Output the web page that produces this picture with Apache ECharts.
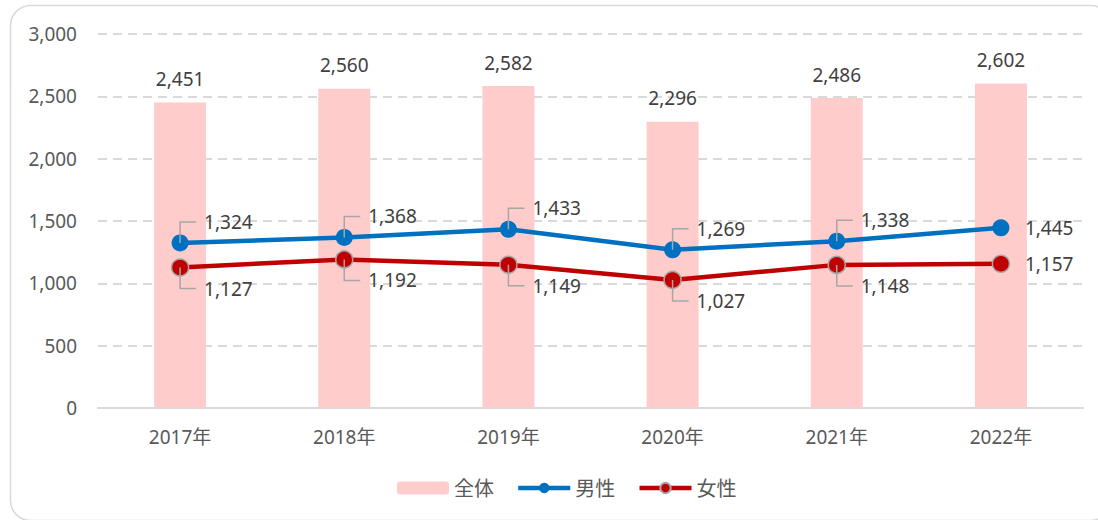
<!DOCTYPE html>
<html>
<head>
<meta charset="utf-8">
<script src="https://cdn.jsdelivr.net/npm/echarts@6/dist/echarts.min.js"></script>
<style>
html,body{margin:0;padding:0;background:#fff;}
#c{width:1098px;height:520px;}
</style>
</head>
<body>
<div id="c"></div>
<script>
const years = ['2017年', '2018年', '2019年', '2020年', '2021年', '2022年'];
const total = [2451, 2560, 2582, 2296, 2486, 2602];
const male = [1324, 1368, 1433, 1269, 1338, 1445];
const female = [1127, 1192, 1149, 1027, 1148, 1157];
const yTicks = [0, 500, 1000, 1500, 2000, 2500, 3000];

const FONT = '"Noto Sans", "Noto Sans CJK JP", sans-serif';
const fmt = v => Number(v).toLocaleString('en-US');

function calloutSeries(name, values, dir) {
  return {
    type: 'custom',
    name: name + '_label',
    z: 5,
    silent: true,
    data: values.map((v, i) => [i, v]),
    encode: { x: 0, y: 1 },
    renderItem: function (params, api) {
      const i = params.dataIndex;
      const v = api.value(1);
      const pt = api.coord([api.value(0), v]);
      const last = i === values.length - 1;
      const children = [];
      if (last) {
        children.push({
          type: 'text',
          style: { x: pt[0] + 24, y: pt[1], text: fmt(v), fill: '#404040', font: '19px ' + FONT, textAlign: 'left', textVerticalAlign: 'middle' }
        });
      } else {
        const ly = pt[1] + dir * 21;
        children.push({
          type: 'polyline',
          shape: { points: [[pt[0], pt[1]], [pt[0], ly], [pt[0] + 16, ly]] },
          style: { stroke: '#a6a6a6', lineWidth: 1.5, fill: null }
        });
        children.push({
          type: 'text',
          style: { x: pt[0] + 24, y: ly, text: fmt(v), fill: '#404040', font: '19px ' + FONT, textAlign: 'left', textVerticalAlign: 'middle' }
        });
      }
      return { type: 'group', children: children };
    }
  };
}

const chart = echarts.init(document.getElementById('c'), null, { renderer: 'svg' });
chart.setOption({
  animation: false,
  backgroundColor: '#fff',
  textStyle: { fontFamily: FONT },
  graphic: [{
    type: 'rect',
    shape: { x: 10.5, y: 5.5, width: 1100, height: 515, r: 20 },
    style: { fill: 'none', stroke: '#d9d9d9', lineWidth: 1.5 },
    z: -10, silent: true
  }],
  grid: { left: 98, right: 15, top: 34, bottom: 112 },
  legend: {
    data: ['全体', '男性', '女性'],
    bottom: 17,
    left: 392,
    itemWidth: 52,
    itemHeight: 13,
    itemGap: 22,
    lineStyle: { width: 4.5 },
    textStyle: { fontSize: 20, color: '#595959', fontFamily: FONT }
  },
  xAxis: {
    type: 'category',
    data: years,
    axisLine: { lineStyle: { color: '#d9d9d9', width: 2 } },
    axisTick: { show: false },
    axisLabel: { color: '#595959', fontSize: 19, margin: 19 }
  },
  yAxis: {
    type: 'value',
    min: yTicks[0],
    max: yTicks[yTicks.length - 1],
    interval: 500,
    axisLine: { show: false },
    axisTick: { show: false },
    axisLabel: { color: '#595959', fontSize: 19, margin: 21, formatter: v => fmt(v) },
    splitLine: { lineStyle: { color: '#d9d9d9', width: 2, type: [9, 6] } }
  },
  series: [
    {
      name: '全体',
      type: 'bar',
      data: total,
      barWidth: 52,
      itemStyle: { color: '#ffcccc' },
      label: { show: true, position: 'top', distance: 14, color: '#404040', fontSize: 19, formatter: p => fmt(p.value) }
    },
    {
      name: '男性',
      type: 'line',
      data: male,
      symbol: 'circle',
      symbolSize: 17,
      z: 3,
      lineStyle: { color: '#0070c0', width: 4.5 },
      itemStyle: { color: '#0070c0' }
    },
    {
      name: '女性',
      type: 'line',
      data: female,
      symbol: 'circle',
      symbolSize: 17,
      z: 3,
      lineStyle: { color: '#c00000', width: 4.5 },
      itemStyle: { color: '#c00000', borderColor: '#a6a6a6', borderWidth: 1.5 }
    },
    calloutSeries('男性', male, -1),
    calloutSeries('女性', female, 1)
  ]
});
</script>
</body>
</html>
